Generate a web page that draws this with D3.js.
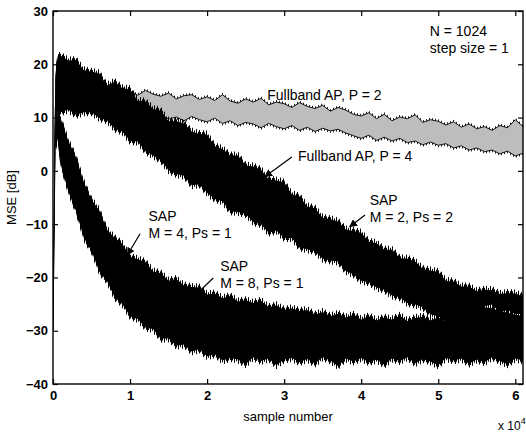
<!DOCTYPE html>
<html>
<head>
<meta charset="utf-8">
<script src="https://cdn.jsdelivr.net/npm/d3@7"></script>
<style>
  body { margin: 0; background: #fff; }
  svg { display: block; font-family: "Liberation Sans", Arial, sans-serif; }
</style>
</head>
<body>
<div id="chart"></div>
<script>
// sample index of every envelope point
const samples = [0, 300, 600, 1000, 2000, 3000, 4000, 5000, 6000, 7000, 8000, 9000, 10000,
  11000, 12000, 13000, 14000, 15000, 16000, 17000, 18000, 19000, 20000, 21000, 22000, 23000,
  24000, 25000, 26000, 27000, 28000, 29000, 30000, 31000, 32000, 33000, 34000, 35000, 36000,
  37000, 38000, 39000, 40000, 41000, 42000, 43000, 44000, 45000, 46000, 47000, 48000, 49000,
  50000, 51000, 52000, 53000, 54000, 55000, 56000, 57000, 58000, 59000, 60000, 61000];

// upper / lower edges (dB) of each noisy MSE curve
const fullP2Hi = [-30, 12, 15, 16.2, 16.8, 15.9, 16.3, 15.2, 15.8, 15.5, 14.6, 15.3, 14.9, 14.2,
  15.1, 14.4, 14, 14.6, 13.5, 14.1, 14.3, 13.4, 13.9, 13.2, 14.3, 13.1, 12.7, 13.5, 12.9, 13.6, 12.4,
  12.9, 12.6, 11.9, 12.8, 12.1, 11.7, 12.3, 11.2, 11.9, 11.4, 10.6, 10.3, 10.9, 9.8, 10.6, 9.4, 10.1,
  9.8, 10.5, 9.1, 9.6, 9.3, 8.6, 9.2, 8.2, 8.8, 7.9, 8.3, 7.6, 8.5, 8.1, 9.6, 8.3];
const fullP2Lo = [-30, 9, 11, 12, 11.6, 12.3, 11.2, 11.5, 11.9, 10.9, 11.3, 10.4, 10.9, 10.2, 10.6,
  9.9, 10.5, 9.7, 10.1, 9.4, 10.2, 9.6, 9.2, 9.9, 8.9, 9.4, 8.5, 9.1, 8.8, 8.1, 8.9, 8.3, 7.9, 8.5,
  7.6, 8.2, 7.4, 8, 7.5, 7.8, 7.1, 6.6, 6.1, 6.7, 5.7, 6.3, 5.6, 6.1, 5.3, 5.6, 4.9, 5.4, 4.8, 5.1,
  4.3, 4.7, 3.9, 4.3, 3.6, 3.9, 3.2, 3.7, 2.8, 3.3];

const fullP4Hi = [-30, 18, 21.5, 21.6, 20.7, 20.8, 18.9, 18.6, 18.3, 16, 16.7, 15.5, 15.3, 13.1, 13,
  11.6, 11.3, 9.3, 9.3, 8.9, 7.4, 6.9, 6.8, 4.6, 4.1, 2.9, 2.9, 1, 0.8, 0.2, -1.6, -1.8, -2.2, -4.4,
  -4.8, -6.7, -7, -8.8, -9.1, -9.5, -11, -11.3, -11.6, -13.3, -13.6, -14.8, -14.8, -16.4, -16.5, -17,
  -18.4, -18.7, -19, -20.6, -20.8, -21.7, -21.7, -22.6, -22.3, -22.4, -23.1, -22.9, -23, -23.6];
const fullP4Lo = [-30, 10, 12, 11.4, 11.9, 10.8, 11.4, 11.4, 10.3, 9.9, 8.3, 7.8, 6, 5.9, 4.1, 3.3,
  2.4, 0.5, -0.2, -0.5, -2.3, -2.1, -3.7, -4.9, -5.3, -7.2, -7.3, -7.7, -9.2, -9.6, -11.2, -10.8,
  -12.2, -12.2, -14, -14.3, -14.7, -16.1, -16.4, -16.6, -18.4, -18.3, -19.5, -20, -19.7, -21.1, -20.7,
  -21.3, -21.4, -22.5, -22.6, -22.5, -23.7, -23.3, -24.5, -24.1, -24.7, -25.4, -25.4, -25.1, -26.6,
  -26.1, -26.9, -26.8];

const sapM2Hi = [-30, 17, 20.5, 20.8, 20.2, 19.8, 18.6, 17.9, 17.2, 16, 15.8, 15, 14, 13, 12.2,
  11.2, 10.3, 9.4, 8.6, 7.8, 7.1, 6.4, 5.6, 4.4, 3.3, 2.6, 1.8, 0.9, 0.1, -0.9, -1.9, -2.5, -3.4,
  -4.6, -5.6, -7.1, -8.1, -9, -9.8, -10.5, -11.3, -12.6, -12.8, -14.4, -14.8, -16.4, -16.8, -18.2,
  -18.6, -19.8, -20.4, -21.4, -22, -22.8, -23.4, -24, -24.6, -25, -25.6, -25.8, -26.4, -26.6, -27, -27.2];
const sapM2Lo = [-30, 9, 11.2, 11, 11.5, 10.5, 11, 11, 9.9, 9.5, 7.9, 7.4, 5.6, 5.5, 3.7, 2.9, 2,
  0.1, -0.6, -0.9, -2.7, -2.5, -4.1, -5.3, -5.7, -7.6, -7.7, -8.1, -9.6, -10, -11.6, -11.2, -12.6,
  -12.6, -14.4, -14.7, -15.1, -16.5, -16.8, -17, -18.8, -19.4, -20.6, -20.9, -21.9, -22.3, -23.4,
  -23.7, -24.8, -25.1, -25.6, -26.9, -27.3, -28.4, -29.4, -30.6, -31.4, -32.4, -33, -33.8, -34,
  -34.4, -34.2, -34.6];

const sapM4Hi = [-30, 8, 10.8, 9.8, 5.6, 2.5, -2.1, -5.4, -7.4, -11, -12.6, -13.7, -16.1, -16.6,
  -17.1, -18.9, -19.2, -20.6, -20.3, -21.5, -21.8, -21.9, -23.2, -23, -23.9, -23.5, -24.5, -24.3,
  -24.8, -24.4, -25.6, -25.2, -26.1, -25.8, -26.3, -26.1, -27, -26.5, -27.3, -26.8, -27.5, -27,
  -27.9, -27.3, -28.1, -27.5, -27.9, -27.2, -28.2, -27.6, -27.4, -28.1, -27.5, -28.3, -27.7, -27.2,
  -28, -27.6, -28.3, -27.5, -27.9, -28.2, -27.4, -28];
const sapM4Lo = [-30, 5, 7, 3, -1.6, -5.9, -10.2, -13.2, -16.6, -19, -21.3, -23.2, -24.8, -26, -26.9,
  -28, -29, -29.7, -30.3, -30.9, -31.4, -31.7, -32, -32.3, -32.4, -32.3, -32.5, -32.4, -32.6, -32.4,
  -32.5, -32.6, -32.4, -32.5, -32.6, -32.4, -32.5, -32.6, -32.4, -32.5, -32.6, -32.4, -32.5, -32.6,
  -32.4, -32.5, -32.6, -32.4, -32.5, -32.6, -32.4, -32.5, -32.6, -32.4, -32.5, -32.6, -32.4, -32.5,
  -32.6, -32.4, -32.5, -32.6, -32.4, -32.5];

const sapM8Hi = [-30, 6, 8.5, 7.5, 4, 0.5, -3.2, -7, -9.5, -12.2, -14, -15.6, -17, -18.3, -19.2,
  -20.2, -21, -21.7, -22.3, -22.9, -23.4, -23.9, -24.3, -24.7, -25, -25.4, -25.6, -25.9, -26.2, -26.4,
  -26.7, -27, -27.3, -27.5, -27.7, -27.9, -28.1, -28.3, -28.4, -28.5, -28.6, -28.8, -29, -29, -29.1,
  -29, -29.1, -29, -29.1, -29, -29.1, -29, -29.1, -29, -29.1, -29, -29.1, -29, -29.1, -29, -29.1,
  -29, -29.1, -29];
const sapM8Lo = [-30, 4, 6, 1.2, -3.9, -7.6, -12.6, -15, -18.9, -20.6, -23.7, -25, -27.3, -27.8,
  -29.4, -29.7, -31.5, -31.4, -32.8, -32.6, -33.9, -33.5, -34.8, -34.4, -35.6, -35.1, -35.4, -36.3,
  -35, -35.7, -35.2, -36.5, -35.4, -35.1, -35.9, -35.3, -36.2, -35, -35.6, -36.6, -35.2, -35.8, -35.1,
  -35.9, -35.4, -36.4, -35.2, -35.7, -35, -36.1, -35.3, -35.8, -36.5, -35.1, -35.6, -35.2, -36.2,
  -35.4, -35.9, -35, -35.7, -36.3, -35.2, -35.6];

const xTicks = [0, 10000, 20000, 30000, 40000, 50000, 60000];
const yTicks = [30, 20, 10, 0, -10, -20, -30, -40];

// annotation texts (sample, dB at baseline) and arrows [tail, head]
const notes = [
  { lines: ["N = 1024", "step size = 1"], x: 48900, y: 25.3 },
  { lines: ["Fullband AP, P = 2"], x: 27800, y: 13.3 },
  { lines: ["Fullband AP, P = 4"], x: 31800, y: 1.9 },
  { lines: ["SAP", "M = 2, Ps = 2"], x: 41100, y: -6.4 },
  { lines: ["SAP", "M = 4, Ps = 1"], x: 12400, y: -9.4 },
  { lines: ["SAP", "M = 8, Ps = 1"], x: 21700, y: -18.8 }
];
const arrows = [
  [[31000, 2.6], [27500, -1.1]],
  [[40500, -8.3], [38500, -10.5]],
  [[11300, -11.8], [9650, -15.8]],
  [[20800, -20.1], [18500, -23.3]]
];

const width = 526, height = 432;
const margin = { top: 11, right: 3, bottom: 48, left: 53 };

const svg = d3.select("#chart").append("svg")
    .attr("width", width)
    .attr("height", height);

svg.append("rect").attr("width", width).attr("height", height).attr("fill", "#fff");

const x = d3.scaleLinear()
    .domain([0, 61000])
    .range([margin.left, width - margin.right]);

const y = d3.scaleLinear()
    .domain([-40, 30])
    .range([height - margin.bottom, margin.top]);

const defs = svg.append("defs");
defs.append("clipPath").attr("id", "clip")
  .append("rect")
    .attr("x", margin.left).attr("y", margin.top)
    .attr("width", x.range()[1] - margin.left)
    .attr("height", y.range()[0] - margin.top);

// vertical hatching used as the spiky fringe of the noisy bands
function hatch(id, w, xs, color) {
    const p = defs.append("pattern").attr("id", id)
        .attr("patternUnits", "userSpaceOnUse")
        .attr("width", w).attr("height", 4);
    xs.forEach(v => p.append("rect").attr("x", v).attr("y", 0)
        .attr("width", 1).attr("height", 4).attr("fill", color));
}
hatch("fringeNear", 2, [0], "#000");
hatch("fringeFar", 7, [0, 3], "#000");
hatch("fringeGrey", 3, [0], "#222");

const plot = svg.append("g").attr("clip-path", "url(#clip)");

function band(hi, lo) {
    return samples.map((s, i) => ({ s: s, hi: hi[i], lo: lo[i] }));
}

function areaPad(pad) {
    return d3.area()
        .x(d => x(d.s))
        .y0(d => y(d.lo) + pad)
        .y1(d => y(d.hi) - pad);
}

// fullband AP, P = 2 : grey band with dark ragged edges
const p2 = band(fullP2Hi, fullP2Lo);
plot.append("path").datum(p2).attr("d", areaPad(2)).attr("fill", "url(#fringeGrey)");
plot.append("path").datum(p2).attr("d", areaPad(0)).attr("fill", "#bdbdbd");
[fullP2Hi, fullP2Lo].forEach(edge => {
    plot.append("path")
        .datum(edge)
        .attr("d", d3.line().x((d, i) => x(samples[i])).y(d => y(d)))
        .attr("fill", "none")
        .attr("stroke", "#111")
        .attr("stroke-width", 1);
});

// the black bands
const blackBands = [
    band(fullP4Hi, fullP4Lo),
    band(sapM2Hi, sapM2Lo),
    band(sapM4Hi, sapM4Lo),
    band(sapM8Hi, sapM8Lo)
];
blackBands.forEach(b => {
    plot.append("path").datum(b).attr("d", areaPad(4)).attr("fill", "url(#fringeFar)");
    plot.append("path").datum(b).attr("d", areaPad(2)).attr("fill", "url(#fringeNear)");
    plot.append("path").datum(b).attr("d", areaPad(0)).attr("fill", "#000");
});

// axes box
const axisG = svg.append("g");
axisG.append("rect")
    .attr("x", margin.left).attr("y", margin.top)
    .attr("width", x.range()[1] - margin.left)
    .attr("height", y.range()[0] - margin.top)
    .attr("fill", "none").attr("stroke", "#000").attr("stroke-width", 1.4);

axisG.append("g")
    .attr("transform", `translate(0,${y(-40)})`)
    .call(d3.axisBottom(x).tickValues(xTicks).tickSizeInner(-5).tickSizeOuter(0).tickPadding(7)
        .tickFormat(d => d / 10000));
axisG.append("g")
    .attr("transform", `translate(${margin.left},0)`)
    .call(d3.axisLeft(y).tickValues(yTicks).tickSizeInner(-5).tickSizeOuter(0).tickPadding(5));
axisG.append("g")
    .attr("transform", `translate(0,${margin.top})`)
    .call(d3.axisTop(x).tickValues(xTicks).tickSizeInner(-5).tickSizeOuter(0).tickFormat(""));
axisG.append("g")
    .attr("transform", `translate(${x.range()[1]},0)`)
    .call(d3.axisRight(y).tickValues(yTicks).tickSizeInner(-5).tickSizeOuter(0).tickFormat(""));

axisG.selectAll(".domain").remove();
axisG.selectAll(".tick line").attr("stroke", "#000").attr("stroke-width", 1.2);
axisG.selectAll(".tick text")
    .attr("fill", "#000")
    .style("font-size", "13px")
    .style("font-weight", "bold")
    .style("font-family", "'Liberation Sans', Arial, sans-serif");

svg.append("text")
    .attr("x", (margin.left + x.range()[1]) / 2)
    .attr("y", 421)
    .attr("text-anchor", "middle")
    .style("font-size", "13px")
    .text("sample number");

svg.append("text")
    .attr("transform", `translate(16,${(margin.top + y.range()[0]) / 2}) rotate(-90)`)
    .attr("text-anchor", "middle")
    .style("font-size", "13px")
    .text("MSE [dB]");

const expo = svg.append("text")
    .attr("x", 498)
    .attr("y", 430)
    .style("font-size", "12px")
    .text("x 10");
expo.append("tspan")
    .attr("dy", -6)
    .style("font-size", "9px")
    .text("4");

// annotations
notes.forEach(n => {
    const t = svg.append("text")
        .attr("x", x(n.x))
        .attr("y", y(n.y))
        .style("font-size", "14px");
    n.lines.forEach((line, i) => {
        t.append("tspan")
            .attr("x", x(n.x))
            .attr("dy", i === 0 ? 0 : 17)
            .text(line);
    });
});

defs.append("marker")
    .attr("id", "head")
    .attr("viewBox", "0 0 10 10")
    .attr("refX", 9).attr("refY", 5)
    .attr("markerWidth", 8).attr("markerHeight", 8)
    .attr("markerUnits", "userSpaceOnUse")
    .attr("orient", "auto")
  .append("path")
    .attr("d", "M0,0 L10,5 L0,10 Z")
    .attr("fill", "#000");

arrows.forEach(a => {
    svg.append("line")
        .attr("x1", x(a[0][0])).attr("y1", y(a[0][1]))
        .attr("x2", x(a[1][0])).attr("y2", y(a[1][1]))
        .attr("stroke", "#000")
        .attr("stroke-width", 1.2)
        .attr("marker-end", "url(#head)");
});
</script>
</body>
</html>
